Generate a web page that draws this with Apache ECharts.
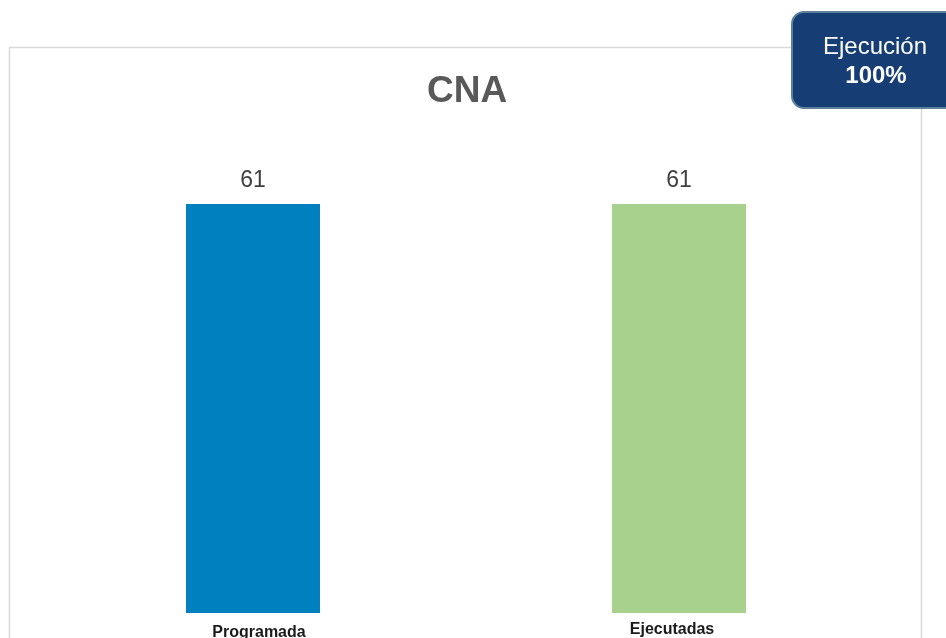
<!DOCTYPE html>
<html>
<head>
<meta charset="utf-8">
<script src="https://cdn.jsdelivr.net/npm/echarts@6/dist/echarts.min.js"></script>
<style>
  html, body { margin: 0; padding: 0; background: #fff; }
  #chart { width: 946px; height: 638px; }
</style>
</head>
<body>
<div id="chart"></div>
<script>
const categories = ['Programada', 'Ejecutadas']
const values = [61, 61]
const barColors = ['#0080BE', '#A9D18E']
const chartTitle = 'CNA'
const badgeLabel = 'Ejecución'
const badgeValue = '100%'

const FONT = 'Liberation Sans'
const chart = echarts.init(document.getElementById('chart'))

chart.setOption({
  animation: false,
  title: {
    text: chartTitle,
    left: 422,
    top: 68,
    textStyle: { fontFamily: FONT, fontSize: 37, fontWeight: 'bold', color: '#595959' }
  },
  grid: { left: 40, right: 54, top: 204, bottom: 25, outerBoundsMode: 'none', containLabel: false },
  xAxis: {
    type: 'category',
    data: categories.map((c, i) => ({
      value: c,
      // la etiqueta de la primera categoría está un poco más baja y a la derecha
      textStyle: i === 0 ? { padding: [3, 0, 0, 12] } : { padding: [0, 14, 0, 0] }
    })),
    axisLine: { show: false },
    axisTick: { show: false },
    axisLabel: {
      margin: 9,
      color: '#1a1a1a',
      fontFamily: FONT,
      fontSize: 16,
      fontWeight: 'bold'
    }
  },
  yAxis: { type: 'value', min: 0, max: 61, show: false },
  series: [{
    type: 'bar',
    barWidth: 134,
    data: values.map((v, i) => ({ value: v, itemStyle: { color: barColors[i] } })),
    label: {
      show: true,
      position: 'top',
      distance: 12,
      color: '#404040',
      fontFamily: FONT,
      fontSize: 23
    }
  }],
  graphic: [
    {
      type: 'rect',
      z: -1,
      shape: { x: 9.5, y: 47.5, width: 912, height: 620 },
      style: { fill: 'none', stroke: '#d9d9d9', lineWidth: 1.5 }
    },
    {
      type: 'rect',
      z: 10,
      shape: { x: 792, y: 12, width: 180, height: 96, r: 12 },
      style: { fill: '#163E74', stroke: '#5E7F9A', lineWidth: 2 }
    },
    {
      type: 'text',
      z: 11,
      x: 875, y: 47,
      style: {
        text: badgeLabel, fill: '#fff', align: 'center', verticalAlign: 'middle',
        fontFamily: FONT, fontSize: 24
      }
    },
    {
      type: 'text',
      z: 11,
      x: 876, y: 76,
      style: {
        text: badgeValue, fill: '#fff', align: 'center', verticalAlign: 'middle',
        fontFamily: FONT, fontSize: 24, fontWeight: 'bold'
      }
    }
  ]
})
</script>
</body>
</html>
